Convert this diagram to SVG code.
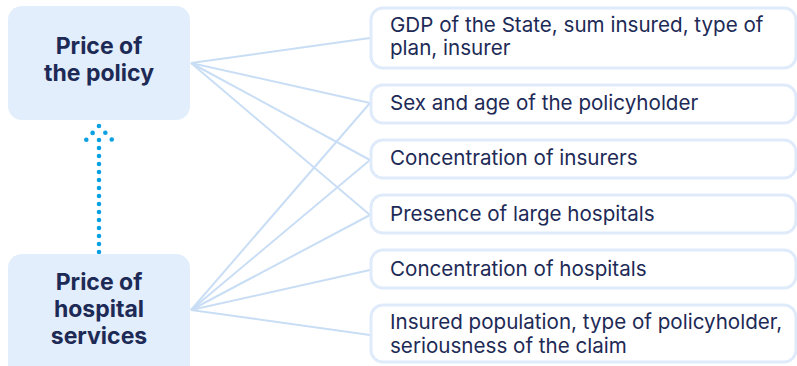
<svg xmlns="http://www.w3.org/2000/svg" width="797" height="366" viewBox="0 0 797 366">
  <style>
    .hub { fill: #e2eefb; }
    .hub-text { font-family: Inter, "Noto Sans", "Liberation Sans", sans-serif; font-weight: 700; font-size: 23px; fill: #1d2a56; text-anchor: middle; }
    .factor { fill: #ffffff; stroke: #dfebfa; stroke-width: 3; }
    .factor-text { font-family: Inter, "Noto Sans", "Liberation Sans", sans-serif; font-size: 20.6px; fill: #1d2a56; }
    .link { stroke: #c9def5; stroke-width: 2; fill: none; }
    .dots { stroke: #0aa0e2; stroke-width: 4.6; stroke-linecap: round; fill: none; }
  </style>
  <rect width="797" height="366" fill="#ffffff"/>

  <!-- connectors from the two hubs to the factor boxes -->
  <g id="connectors">
    <line class="link" x1="191" y1="63" x2="370" y2="38"/>
    <line class="link" x1="191" y1="63" x2="370" y2="103"/>
    <line class="link" x1="191" y1="63" x2="370" y2="160"/>
    <line class="link" x1="191" y1="63" x2="370" y2="215"/>
    <line class="link" x1="191" y1="310" x2="370" y2="103"/>
    <line class="link" x1="191" y1="310" x2="370" y2="160"/>
    <line class="link" x1="191" y1="310" x2="370" y2="215"/>
    <line class="link" x1="191" y1="310" x2="370" y2="270"/>
    <line class="link" x1="191" y1="310" x2="370" y2="335"/>
    <!-- dotted arrow: hospital prices feed policy price -->
    <line class="dots" x1="99" y1="252" x2="99" y2="134.7" stroke-dasharray="0 8"/>
    <polyline class="dots" points="86.3,139.7 99,126 112,139.7" stroke-dasharray="0 9.3"/>
  </g>

  <g id="hub-policy">
    <rect class="hub" x="8" y="6" width="182" height="114" rx="14"/>
    <text class="hub-text" x="99" y="54">Price of</text>
    <text class="hub-text" x="99" y="81">the policy</text>
  </g>

  <g id="hub-hospital">
    <rect class="hub" x="8" y="254" width="182" height="124" rx="14"/>
    <text class="hub-text" x="99" y="290">Price of</text>
    <text class="hub-text" x="99" y="317">hospital</text>
    <text class="hub-text" x="99" y="344">services</text>
  </g>

  <g id="factor-gdp">
    <rect class="factor" x="371" y="8" width="425" height="60" rx="12"/>
    <text class="factor-text" x="390" y="32">GDP of the State, sum insured, type of</text>
    <text class="factor-text" x="390" y="55">plan, insurer</text>
  </g>

  <g id="factor-sex-age">
    <rect class="factor" x="371" y="85" width="425" height="38" rx="12"/>
    <text class="factor-text" x="390" y="110">Sex and age of the policyholder</text>
  </g>

  <g id="factor-insurers">
    <rect class="factor" x="371" y="140" width="425" height="38" rx="12"/>
    <text class="factor-text" x="390" y="165">Concentration of insurers</text>
  </g>

  <g id="factor-large-hospitals">
    <rect class="factor" x="371" y="195" width="425" height="38" rx="12"/>
    <text class="factor-text" x="390" y="221">Presence of large hospitals</text>
  </g>

  <g id="factor-hospitals">
    <rect class="factor" x="371" y="250" width="425" height="38" rx="12"/>
    <text class="factor-text" x="390" y="276">Concentration of hospitals</text>
  </g>

  <g id="factor-population">
    <rect class="factor" x="371" y="305" width="425" height="57" rx="12"/>
    <text class="factor-text" x="390" y="329">Insured population, type of policyholder,</text>
    <text class="factor-text" x="390" y="353">seriousness of the claim</text>
  </g>
</svg>
